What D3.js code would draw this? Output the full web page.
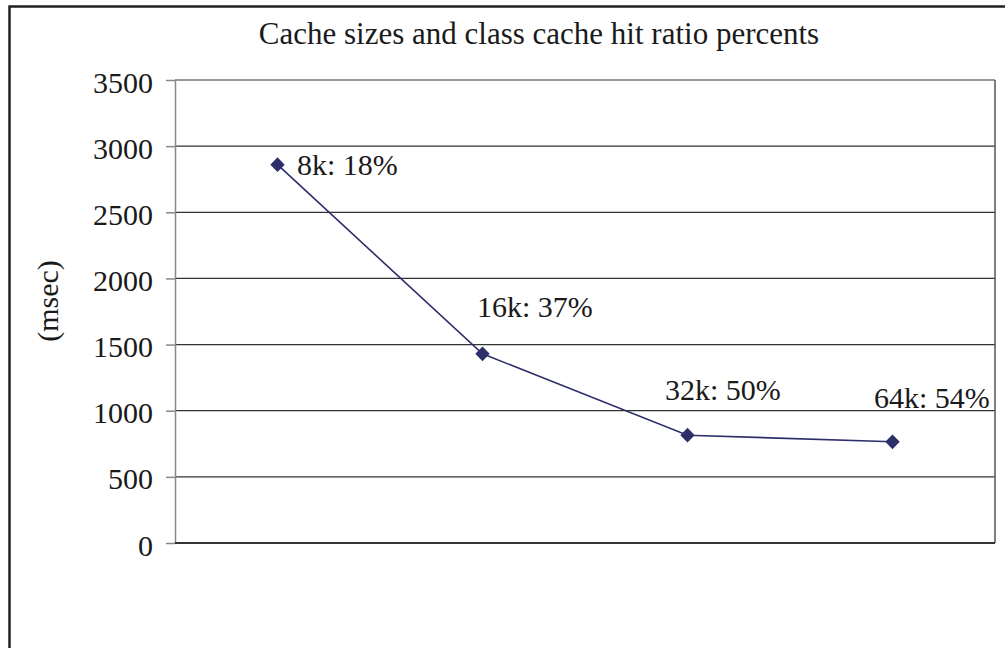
<!DOCTYPE html>
<html><head><meta charset="utf-8">
<script src="https://cdn.jsdelivr.net/npm/d3@7"></script>
<style>body{margin:0;background:#fff}svg{display:block}text{font-family:"Liberation Serif","Times New Roman",serif;fill:#1a1a1a}</style>
</head><body>
<script>
const categories = ["8k", "16k", "32k", "64k"];
const hitRatios = ["18%", "37%", "50%", "54%"];
const times = [2860, 1430, 815, 765];
const yTicks = [0, 500, 1000, 1500, 2000, 2500, 3000, 3500];
const title = "Cache sizes and class cache hit ratio percents";
const yTitle = "(msec)";

const W = 1005, H = 648;
const svg = d3.select("body").append("svg").attr("width", W).attr("height", H);
const L = 175, R = 995, T = 80, B = 543;
const FS = "30px";

svg.append("rect").attr("x", 9.5).attr("y", 6.5).attr("width", 1100).attr("height", 700)
  .attr("fill", "none").attr("stroke", "#222").attr("stroke-width", 2.5);

const x = d3.scaleBand().domain(categories).range([L, R]);
const y = d3.scaleLinear().domain([0, 3500]).range([B, T]);

svg.append("text").attr("x", 539).attr("y", 44).attr("text-anchor", "middle")
  .style("font-size", "31px").text(title);

// gridlines
svg.append("g").selectAll("line").data(yTicks.filter(d => d > 0)).join("line")
  .attr("x1", L).attr("x2", R).attr("y1", d => y(d)).attr("y2", d => y(d))
  .attr("stroke", "#333").attr("stroke-width", 1.2);

svg.append("line").attr("x1", R).attr("x2", R).attr("y1", T).attr("y2", B).attr("stroke", "#555").attr("stroke-width", 1.5);

const yAxis = d3.axisLeft(y).tickValues(yTicks).tickFormat(d3.format("d")).tickSize(9).tickPadding(13).tickSizeOuter(0);
const ga = svg.append("g").attr("transform", `translate(${L},0)`).call(yAxis);
ga.select(".domain").attr("stroke", "#888").attr("stroke-width", 1.5);
ga.selectAll(".tick line").attr("stroke", "#888").attr("stroke-width", 1.5);
ga.selectAll(".tick text").style("font-size", FS).style("font-family", "Liberation Serif").attr("fill", "#1a1a1a").attr("dy", "0.4em");

svg.append("line").attr("x1", L).attr("x2", R).attr("y1", B).attr("y2", B).attr("stroke", "#333").attr("stroke-width", 2);

svg.append("text").attr("transform", `translate(58,301) rotate(-90)`).attr("text-anchor", "middle")
  .style("font-size", FS).text(yTitle);

const cx = d => x(d) + x.bandwidth() / 2;
const line = d3.line().x((d, i) => cx(categories[i])).y(d => y(d));
svg.append("path").attr("d", line(times)).attr("fill", "none").attr("stroke", "#2e2e6b").attr("stroke-width", 1.6);

svg.append("g").selectAll("path").data(times).join("path")
  .attr("d", d3.symbol(d3.symbolDiamond, 62)())
  .attr("transform", (d, i) => `translate(${cx(categories[i])},${y(d)}) scale(1.7,1)`)
  .attr("fill", "#2e2e6b");

const labelDx = [19.5, -5.5, -22.5, -18.5];
const labelDy = [10, -37, -35, -34];
svg.append("g").selectAll("text").data(times).join("text")
  .attr("x", (d, i) => cx(categories[i]) + labelDx[i])
  .attr("y", (d, i) => y(d) + labelDy[i])
  .style("font-size", FS)
  .text((d, i) => `${categories[i]}: ${hitRatios[i]}`);
</script>
</body></html>
